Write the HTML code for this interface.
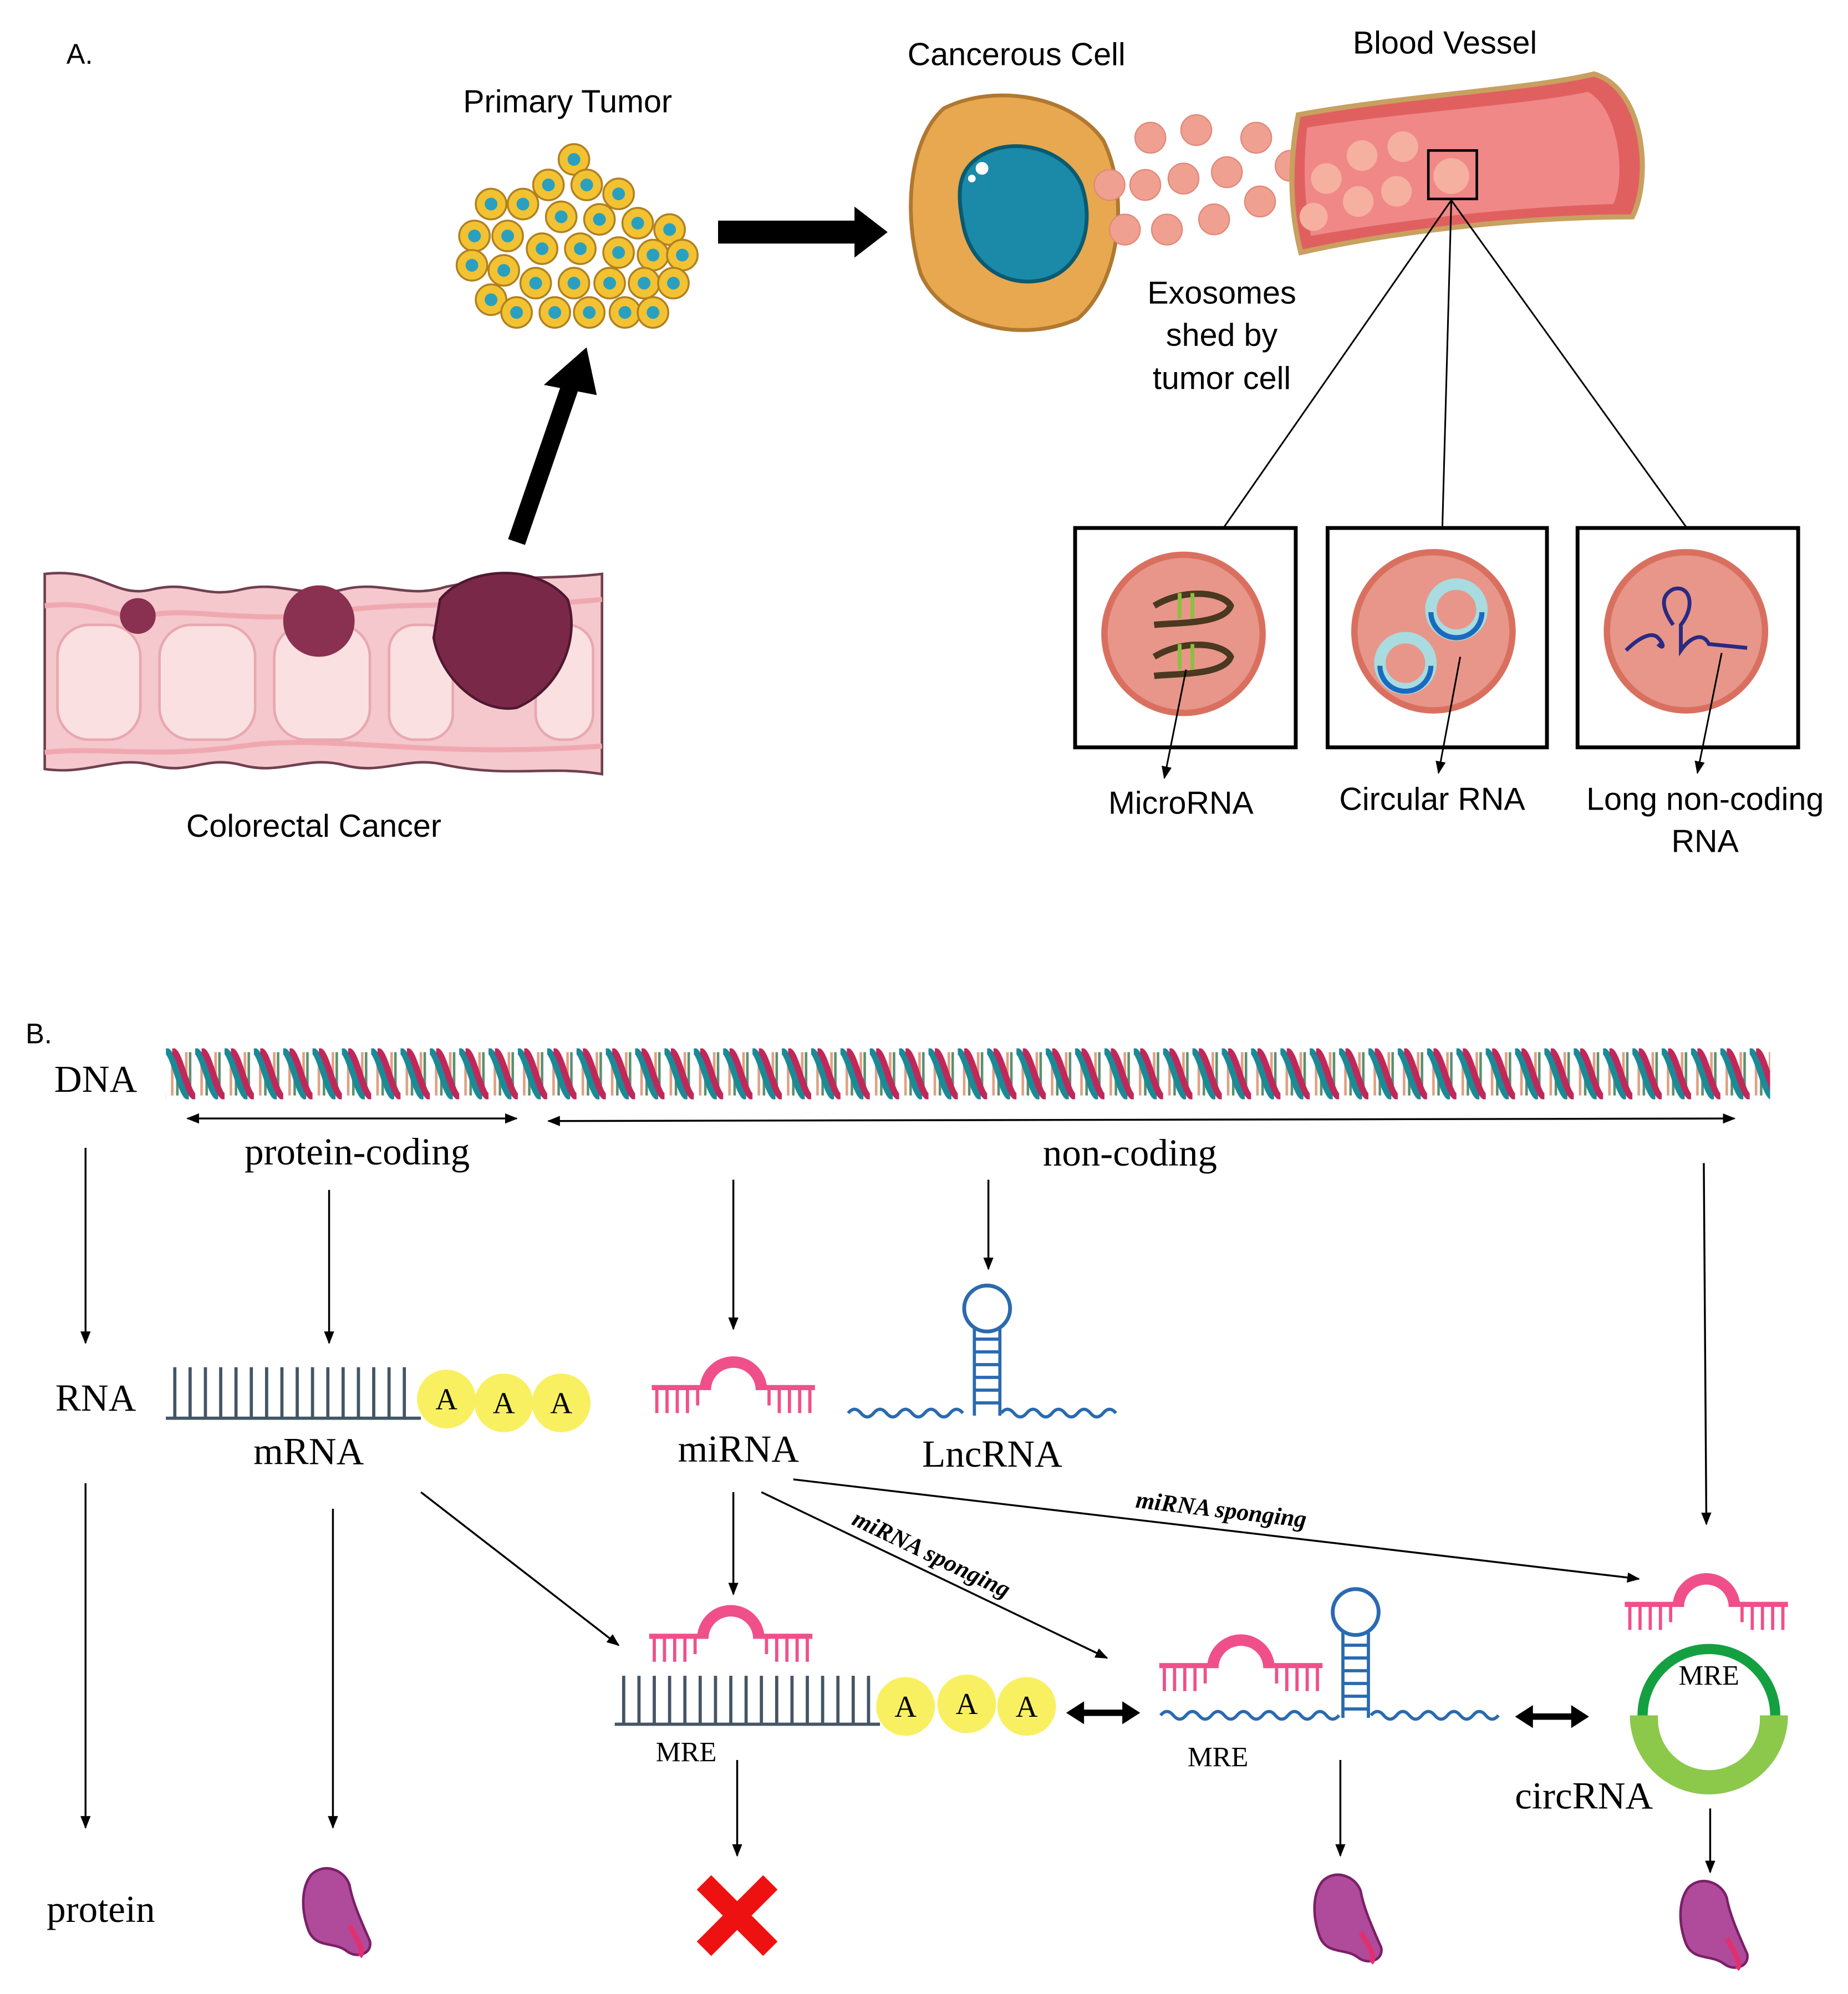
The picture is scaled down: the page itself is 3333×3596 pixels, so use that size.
<!DOCTYPE html>
<html><head><meta charset="utf-8"><style>html,body{margin:0;padding:0;background:#fff}svg{display:block}</style></head>
<body>
<svg width="3333" height="3596" viewBox="0 0 1449 1563.5" xmlns="http://www.w3.org/2000/svg" font-family="Liberation Sans, sans-serif">
<defs>
<marker id="ah" markerWidth="10" markerHeight="10" refX="9" refY="5" orient="auto" markerUnits="userSpaceOnUse"><path d="M0,1 L10,5 L0,9 z" fill="#000"/></marker>
<marker id="ahs" markerWidth="10" markerHeight="10" refX="1" refY="5" orient="auto" markerUnits="userSpaceOnUse"><path d="M10,1 L0,5 L10,9 z" fill="#000"/></marker>
<pattern id="dna" x="130" y="822" width="23" height="40" patternUnits="userSpaceOnUse">
<rect x="4" y="3" width="2" height="34" fill="#e0a080"/><rect x="8" y="3" width="2" height="34" fill="#5a9070"/><rect x="15" y="3" width="2" height="34" fill="#e0a080"/><rect x="18" y="3" width="2" height="34" fill="#5a9070"/>
<path d="M0,2 C6,2 12,38 18,38" stroke="#1a8a96" stroke-width="5" fill="none"/>
<path d="M5,2 C11,2 17,38 23,38 M-18,2 C-12,2 -6,38 0,38" stroke="#c0285a" stroke-width="5" fill="none"/>
</pattern>
<g id="mi"><path d="M-22,0 A22,22 0 0 1 22,0" stroke="#f0508a" stroke-width="9" fill="none"/>
<path d="M-64,-2 H-20 M20,-2 H64" stroke="#f0508a" stroke-width="4"/>
<path d="M-60,0 v18 M-52,0 v18 M-44,0 v18 M-36,0 v18 M-28,0 v12 M28,0 v12 M36,0 v18 M44,0 v18 M52,0 v18 M60,0 v18" stroke="#f0508a" stroke-width="2.5"/></g>
<g id="prot"><path d="M-18,-30 C-8,-40 8,-34 12,-22 C14,-10 20,4 28,22 C30,32 18,36 10,30 C0,22 -14,28 -20,14 C-26,-2 -26,-20 -18,-30 z" fill="#b04a9a" stroke="#7a2068" stroke-width="2"/><path d="M12,10 C18,20 24,30 20,34" stroke="#e03070" stroke-width="4" fill="none"/></g>
</defs>

<!-- Part A -->
<text x="52" y="50" font-size="22">A.</text>
<text x="445" y="88" font-size="25" text-anchor="middle">Primary Tumor</text>
<g fill="#f2c232" stroke="#b08020" stroke-width="1.5">
<circle cx="450" cy="125" r="12"/><circle cx="430" cy="145" r="12"/><circle cx="460" cy="145" r="12"/><circle cx="485" cy="152" r="12"/>
<circle cx="385" cy="160" r="12"/><circle cx="410" cy="160" r="12"/><circle cx="440" cy="170" r="12"/><circle cx="470" cy="172" r="12"/><circle cx="500" cy="175" r="12"/><circle cx="525" cy="180" r="12"/>
<circle cx="372" cy="185" r="12"/><circle cx="398" cy="185" r="12"/><circle cx="425" cy="195" r="12"/><circle cx="455" cy="195" r="12"/><circle cx="485" cy="198" r="12"/><circle cx="512" cy="200" r="12"/><circle cx="535" cy="200" r="12"/>
<circle cx="370" cy="208" r="12"/><circle cx="395" cy="212" r="12"/><circle cx="420" cy="222" r="12"/><circle cx="450" cy="222" r="12"/><circle cx="478" cy="222" r="12"/><circle cx="505" cy="222" r="12"/><circle cx="528" cy="222" r="12"/>
<circle cx="385" cy="235" r="12"/><circle cx="405" cy="245" r="12"/><circle cx="435" cy="245" r="12"/><circle cx="462" cy="245" r="12"/><circle cx="490" cy="245" r="12"/><circle cx="512" cy="245" r="12"/>
</g>
<g fill="#2aa0c0">
<circle cx="450" cy="125" r="5"/><circle cx="430" cy="145" r="5"/><circle cx="460" cy="145" r="5"/><circle cx="485" cy="152" r="5"/><circle cx="385" cy="160" r="5"/><circle cx="410" cy="160" r="5"/><circle cx="440" cy="170" r="5"/><circle cx="470" cy="172" r="5"/><circle cx="500" cy="175" r="5"/><circle cx="525" cy="180" r="5"/><circle cx="372" cy="185" r="5"/><circle cx="398" cy="185" r="5"/><circle cx="425" cy="195" r="5"/><circle cx="455" cy="195" r="5"/><circle cx="485" cy="198" r="5"/><circle cx="512" cy="200" r="5"/><circle cx="535" cy="200" r="5"/><circle cx="370" cy="208" r="5"/><circle cx="395" cy="212" r="5"/><circle cx="420" cy="222" r="5"/><circle cx="450" cy="222" r="5"/><circle cx="478" cy="222" r="5"/><circle cx="505" cy="222" r="5"/><circle cx="528" cy="222" r="5"/><circle cx="385" cy="235" r="5"/><circle cx="405" cy="245" r="5"/><circle cx="435" cy="245" r="5"/><circle cx="462" cy="245" r="5"/><circle cx="490" cy="245" r="5"/><circle cx="512" cy="245" r="5"/>
</g>
<path d="M405,425 L448,300" stroke="#000" stroke-width="14"/><path d="M433,300 L458,278 L464,306 z" fill="#000" stroke="#000" stroke-width="6"/>
<path d="M563,182 L672,182" stroke="#000" stroke-width="18"/><path d="M670,162 L696,182 L670,202 z" fill="#000"/>

<text x="797" y="51" font-size="25" text-anchor="middle">Cancerous Cell</text>
<path d="M740,85 C780,65 840,75 865,110 C885,150 880,220 845,250 C800,270 740,255 722,215 C708,170 712,110 740,85 z" fill="#e8a850" stroke="#b07830" stroke-width="3"/>
<path d="M765,125 C790,105 835,115 848,145 C860,180 845,215 815,220 C785,225 760,205 755,175 C750,150 752,135 765,125 z" fill="#1a8aa8" stroke="#0a5a70" stroke-width="3"/>
<circle cx="770" cy="132" r="5" fill="#fff"/><circle cx="762" cy="140" r="3" fill="#fff"/>
<g fill="#f0a090" stroke="#e08878" stroke-width="1">
<circle cx="902" cy="108" r="12"/><circle cx="938" cy="102" r="12"/><circle cx="985" cy="108" r="12"/><circle cx="870" cy="145" r="12"/><circle cx="898" cy="145" r="12"/><circle cx="928" cy="140" r="12"/><circle cx="962" cy="135" r="12"/><circle cx="1012" cy="130" r="12"/><circle cx="882" cy="180" r="12"/><circle cx="915" cy="180" r="12"/><circle cx="952" cy="172" r="12"/><circle cx="988" cy="158" r="12"/>
</g>
<path d="M1018,90 C1100,75 1200,70 1250,58 C1290,70 1295,140 1280,170 C1200,170 1100,180 1020,198 C1010,160 1012,120 1018,90 z" fill="#e06060" stroke="#c8a060" stroke-width="4"/>
<path d="M1025,100 C1100,88 1200,82 1245,72 C1270,85 1275,140 1265,160 C1190,162 1100,172 1028,185 C1022,155 1022,125 1025,100 z" fill="#f08888"/>
<g fill="#f5b0a0"><circle cx="1040" cy="140" r="12"/><circle cx="1068" cy="122" r="12"/><circle cx="1100" cy="115" r="12"/><circle cx="1065" cy="158" r="12"/><circle cx="1095" cy="150" r="12"/><circle cx="1138" cy="138" r="14"/><circle cx="1030" cy="170" r="11"/></g>
<rect x="1120" y="118" width="38" height="38" fill="none" stroke="#000" stroke-width="2"/>
<text x="1133" y="42" font-size="25" text-anchor="middle">Blood Vessel</text>
<g font-size="25" text-anchor="middle"><text x="958" y="238">Exosomes</text><text x="958" y="271">shed by</text><text x="958" y="305">tumor cell</text></g>
<path d="M1138,157 L960,413 M1138,157 L1131,413 M1138,157 L1322,413" stroke="#000" stroke-width="1.3"/>
<g fill="none" stroke="#000" stroke-width="3"><rect x="843" y="414" width="173" height="172"/><rect x="1041" y="414" width="172" height="172"/><rect x="1237" y="414" width="173" height="172"/></g>
<g fill="#e8968a" stroke="#d9705f" stroke-width="5"><circle cx="928" cy="497" r="62"/><circle cx="1124" cy="495" r="62"/><circle cx="1322" cy="495" r="62"/></g>
<path d="M905,475 C930,460 960,465 965,475 C960,490 920,488 905,490 M905,515 C930,500 960,505 965,515 C960,530 920,528 905,530" stroke="#4a3820" stroke-width="5" fill="none"/>
<path d="M925,465 v20 M935,465 v20 M925,505 v20 M935,505 v20" stroke="#8ac040" stroke-width="3"/>
<circle cx="1102" cy="520" r="20" fill="none" stroke="#a8dce0" stroke-width="9"/><path d="M1082,522 A20,20 0 0 0 1122,522" stroke="#1a6ac0" stroke-width="4" fill="none"/>
<circle cx="1142" cy="478" r="20" fill="none" stroke="#a8dce0" stroke-width="9"/><path d="M1122,480 A20,20 0 0 0 1162,480" stroke="#1a6ac0" stroke-width="4" fill="none"/>
<path d="M1275,510 C1285,500 1295,495 1300,500 C1305,505 1305,510 1300,505 M1312,490 C1305,480 1300,468 1312,462 C1325,458 1330,475 1318,490 L1318,510 C1325,500 1335,495 1340,505 L1370,508" stroke="#2a2a80" stroke-width="3" fill="none"/>
<g stroke="#000" stroke-width="1.3" fill="none">
<path d="M930,525 L913,610" marker-end="url(#ah)"/><path d="M1145,515 L1128,606" marker-end="url(#ah)"/><path d="M1350,512 L1331,606" marker-end="url(#ah)"/>
</g>
<g font-size="25" text-anchor="middle"><text x="926" y="638">MicroRNA</text><text x="1123" y="635">Circular RNA</text><text x="1337" y="635">Long non-coding</text><text x="1337" y="668">RNA</text></g>

<!-- colon -->
<path d="M35,450 C80,445 90,470 120,462 C150,455 160,470 190,462 C220,455 240,470 270,462 C300,455 320,470 350,460 C400,450 430,455 472,450 L472,607 C430,600 400,610 350,600 C320,592 300,608 270,600 C240,592 220,608 190,600 C160,592 150,608 120,600 C90,592 70,608 35,603 z" fill="#f4c8cc" stroke="#704050" stroke-width="2"/>
<g fill="#fbe0e2" stroke="#e8a8b0" stroke-width="2">
<rect x="45" y="490" width="65" height="90" rx="25"/><rect x="125" y="490" width="75" height="90" rx="25"/><rect x="215" y="490" width="75" height="90" rx="25"/><rect x="305" y="490" width="50" height="90" rx="20"/><rect x="420" y="490" width="45" height="90" rx="20"/>
</g>
<path d="M35,475 C80,470 90,488 120,482 C150,476 200,490 260,480 C320,470 400,478 472,470 M35,590 C80,585 120,595 190,585 C260,575 330,595 472,585" stroke="#f0a8b0" stroke-width="4" fill="none"/>
<circle cx="108" cy="483" r="14" fill="#8a3050"/>
<circle cx="250" cy="487" r="28" fill="#8a3050"/>
<path d="M345,470 C365,445 420,440 445,470 C455,500 440,540 405,555 C375,560 345,530 340,500 z" fill="#7a2848" stroke="#501830" stroke-width="2"/>
<text x="246" y="656" font-size="25" text-anchor="middle">Colorectal Cancer</text>

<!-- Part B -->
<text x="20" y="818" font-size="22">B.</text>
<g font-family="Liberation Serif, serif" font-size="30" text-anchor="middle">
<text x="75" y="856">DNA</text><text x="75" y="1106">RNA</text><text x="79" y="1507">protein</text>
<text x="280" y="913">protein-coding</text><text x="886" y="914">non-coding</text>
<text x="242" y="1148">mRNA</text><text x="579" y="1146">miRNA</text><text x="778" y="1150">LncRNA</text><text x="1242" y="1418">circRNA</text>
</g>
<rect x="130" y="822" width="1258" height="40" fill="url(#dna)"/>
<g stroke="#000" stroke-width="1.5" fill="none">
<path d="M147,877 L405,877" marker-start="url(#ahs)" marker-end="url(#ah)"/>
<path d="M430,879 L1360,877" marker-start="url(#ahs)" marker-end="url(#ah)"/>
<path d="M67,900 L67,1053" marker-end="url(#ah)"/><path d="M258,933 L258,1053" marker-end="url(#ah)"/>
<path d="M575,925 L575,1042" marker-end="url(#ah)"/><path d="M775,925 L775,995" marker-end="url(#ah)"/>
<path d="M1336,912 L1338,1195" marker-end="url(#ah)"/>
<path d="M67,1163 L67,1433" marker-end="url(#ah)"/><path d="M261,1183 L261,1433" marker-end="url(#ah)"/>
<path d="M330,1170 L485,1290" marker-end="url(#ah)"/><path d="M575,1170 L575,1250" marker-end="url(#ah)"/>
<path d="M597,1170 L868,1300" marker-end="url(#ah)"/><path d="M622,1160 L1285,1238" marker-end="url(#ah)"/>
<path d="M578,1380 L578,1455" marker-end="url(#ah)"/><path d="M1051,1380 L1051,1455" marker-end="url(#ah)"/><path d="M1341,1418 L1341,1468" marker-end="url(#ah)"/>
</g>
<g font-family="Liberation Serif, serif" font-size="19" font-weight="bold" font-style="italic">
<text transform="translate(667,1195) rotate(25.6)">miRNA sponging</text>
<text transform="translate(890,1182) rotate(6.7)">miRNA sponging</text>
</g>
<!-- mRNA -->
<path d="M130,1112 H330" stroke="#445566" stroke-width="2.5"/>
<path d="M137,1112V1072M149,1112V1072M161,1112V1072M173,1112V1072M185,1112V1072M197,1112V1072M209,1112V1072M221,1112V1072M233,1112V1072M245,1112V1072M257,1112V1072M269,1112V1072M281,1112V1072M293,1112V1072M305,1112V1072M317,1112V1072" stroke="#445566" stroke-width="2.5"/>
<g fill="#f8f060"><circle cx="350" cy="1097" r="23"/><circle cx="395" cy="1100" r="23"/><circle cx="440" cy="1100" r="23"/><circle cx="710" cy="1338" r="23"/><circle cx="758" cy="1336" r="23"/><circle cx="805" cy="1338" r="23"/></g>
<g font-family="Liberation Serif, serif" font-size="24" text-anchor="middle"><text x="350" y="1105">A</text><text x="395" y="1108">A</text><text x="440" y="1108">A</text><text x="710" y="1346">A</text><text x="758" y="1344">A</text><text x="805" y="1346">A</text></g>
<use href="#mi" x="575" y="1090"/>
<!-- LncRNA -->
<path d="M665,1108 q5,-6 10,0 t10,0 t10,0 t10,0 t10,0 t10,0 t10,0 t10,0 t10,0 M785,1108 q5,-6 10,0 t10,0 t10,0 t10,0 t10,0 t10,0 t10,0 t10,0 t10,0" stroke="#2a6ab0" stroke-width="2.5" fill="none"/>
<path d="M764,1042 V1110 M784,1042 V1110 M764,1050H784M764,1060H784M764,1070H784M764,1080H784M764,1090H784M764,1100H784" stroke="#2a6ab0" stroke-width="2.5"/>
<circle cx="774" cy="1026" r="18" fill="none" stroke="#2a6ab0" stroke-width="3"/>
<!-- bottom mRNA -->
<path d="M482,1352 H690" stroke="#445566" stroke-width="2.5"/>
<path d="M489,1352V1314M501,1352V1314M513,1352V1314M525,1352V1314M537,1352V1314M549,1352V1314M561,1352V1314M573,1352V1314M585,1352V1314M597,1352V1314M609,1352V1314M621,1352V1314M633,1352V1314M645,1352V1314M657,1352V1314M669,1352V1314M681,1352V1314" stroke="#445566" stroke-width="2.5"/>
<use href="#mi" x="573" y="1285"/>
<path d="M842,1343 H888" stroke="#000" stroke-width="5"/><path d="M836,1343 l14,-9 v18 z M894,1343 l-14,-9 v18 z" fill="#000"/>
<path d="M1194,1346 H1240" stroke="#000" stroke-width="5"/><path d="M1188,1346 l14,-9 v18 z M1246,1346 l-14,-9 v18 z" fill="#000"/>
<!-- bottom Lnc -->
<path d="M910,1345 q5,-6 10,0 t10,0 t10,0 t10,0 t10,0 t10,0 t10,0 t10,0 t10,0 t10,0 t10,0 t10,0 t10,0 t10,0 M1075,1345 q5,-6 10,0 t10,0 t10,0 t10,0 t10,0 t10,0 t10,0 t10,0 t10,0 t10,0" stroke="#2a6ab0" stroke-width="2.5" fill="none"/>
<path d="M1053,1280 V1347 M1073,1280 V1347 M1053,1290H1073M1053,1300H1073M1053,1310H1073M1053,1320H1073M1053,1330H1073M1053,1340H1073" stroke="#2a6ab0" stroke-width="2.5"/>
<circle cx="1063" cy="1264" r="18" fill="none" stroke="#2a6ab0" stroke-width="3"/>
<use href="#mi" x="973" y="1308"/>
<!-- circRNA -->
<path d="M1278,1345 A62,62 0 0 0 1402,1345 Z" fill="#8cc84a"/>
<path d="M1288,1345 A52,52 0 0 1 1392,1345" stroke="#14a040" stroke-width="8" fill="none"/>
<circle cx="1340" cy="1348" r="40" fill="#fff"/>
<use href="#mi" x="1338" y="1260"/>
<g font-family="Liberation Serif, serif" font-size="22" text-anchor="middle"><text x="538" y="1381">MRE</text><text x="955" y="1385">MRE</text><text x="1340" y="1321">MRE</text></g>
<!-- proteins and X -->
<use href="#prot" x="262" y="1500"/><use href="#prot" x="1055" y="1505"/><use href="#prot" x="1342" y="1510"/>
<path d="M552,1476 L604,1528 M604,1476 L552,1528" stroke="#ee1111" stroke-width="16"/>
</svg>
</body></html>
